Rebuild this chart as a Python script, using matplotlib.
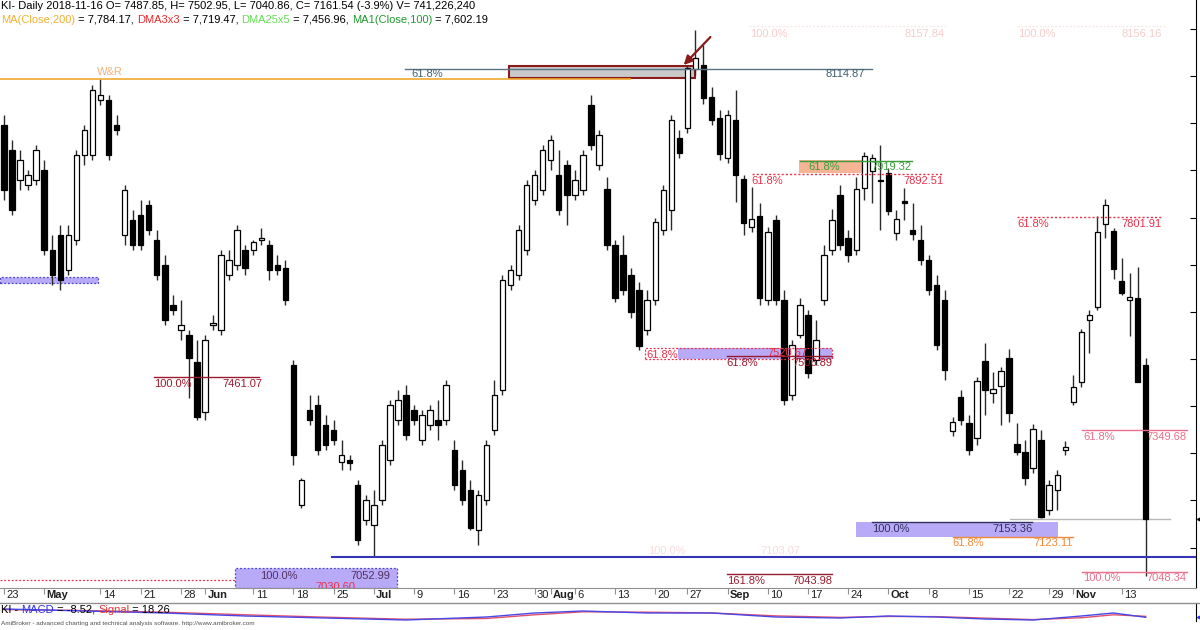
import numpy as np
import matplotlib
matplotlib.use("Agg")
import matplotlib.pyplot as plt
from matplotlib.patches import Rectangle, FancyArrowPatch

plt.rcParams['font.family'] = ['Liberation Sans', 'DejaVu Sans']

# ---------------- data ----------------
opens = [7996, 7943, 7879, 7869, 7879, 7901, 7731, 7763, 7689, 7752, 7932, 7932, 8049, 8049, 7996, 7763, 7795, 7805, 7826, 7752,
         7699, 7614, 7561, 7551, 7494, 7387, 7572, 7561, 7678, 7699, 7731, 7731, 7752, 7742, 7699, 7693, 7487, 7190, 7392, 7402,
         7360, 7349, 7282, 7286, 7233, 7159, 7148, 7201, 7286, 7371, 7424, 7392, 7328, 7360, 7371, 7371, 7307, 7265, 7222, 7137,
         7201, 7349, 7434, 7657, 7678, 7731, 7837, 7858, 7922, 7890, 7911, 7848, 7858, 8038, 7911, 7860, 7742, 7720, 7678, 7646,
         7561, 7625, 7773, 7816, 7968, 7990, 8115, 8123, 8055, 8011, 7927, 8007, 7882, 7780, 7803, 7625, 7795, 7625, 7424, 7551,
         7593, 7498, 7625, 7731, 7848, 7756, 7731, 7863, 7899, 7879, 7894, 7767, 7835, 7773, 7752, 7710, 7657, 7625, 7347, 7419,
         7364, 7332, 7496, 7428, 7443, 7502, 7320, 7303, 7269, 7328, 7180, 7222, 7307, 7409, 7451, 7583, 7610, 7786, 7771, 7665,
         7625, 7629, 7487.85]
highs = [8017, 7964, 7943, 7901, 7954, 7922, 7763, 7784, 7784, 7943, 7996, 8081, 8093, 8060, 8017, 7869, 7816, 7837, 7837, 7773,
         7720, 7636, 7625, 7561, 7540, 7551, 7593, 7731, 7731, 7784, 7742, 7752, 7778, 7752, 7720, 7710, 7498, 7248, 7424, 7424,
         7381, 7371, 7328, 7296, 7243, 7212, 7222, 7328, 7413, 7434, 7445, 7402, 7392, 7402, 7413, 7455, 7328, 7286, 7243, 7222,
         7328, 7455, 7678, 7699, 7784, 7879, 7901, 7954, 7975, 7943, 7922, 7901, 7943, 8060, 7985, 7886, 7752, 7763, 7693, 7663,
         7646, 7799, 7869, 8017, 7985, 8121, 8197, 8166, 8076, 8028, 8028, 8070, 7890, 7865, 7831, 7780, 7805, 7646, 7540, 7629,
         7604, 7583, 7742, 7818, 7869, 7773, 7886, 7939, 7935, 7954, 7905, 7816, 7862, 7831, 7784, 7720, 7678, 7646, 7377, 7434,
         7381, 7462, 7534, 7472, 7483, 7521, 7364, 7328, 7362, 7349, 7243, 7265, 7326, 7466, 7563, 7604, 7803, 7839, 7778, 7714,
         7682, 7695, 7502.95]
lows = [7837, 7805, 7858, 7858, 7869, 7720, 7657, 7646, 7678, 7742, 7911, 7922, 8038, 7922, 7975, 7742, 7731, 7731, 7763, 7667,
        7572, 7593, 7540, 7417, 7371, 7371, 7561, 7551, 7667, 7689, 7678, 7720, 7742, 7667, 7678, 7614, 7275, 7184, 7360, 7296,
        7307, 7318, 7265, 7265, 7106, 7148, 7080, 7190, 7275, 7360, 7328, 7360, 7318, 7349, 7328, 7360, 7222, 7190, 7137, 7106,
        7190, 7339, 7424, 7646, 7667, 7720, 7826, 7848, 7901, 7805, 7784, 7837, 7848, 7943, 7901, 7731, 7621, 7636, 7587, 7519,
        7551, 7614, 7763, 7773, 7926, 7980, 8102, 8040, 7996, 7922, 7916, 7833, 7763, 7769, 7614, 7614, 7614, 7402, 7413, 7545,
        7460, 7487, 7614, 7720, 7731, 7706, 7720, 7837, 7831, 7773, 7805, 7752, 7795, 7752, 7699, 7636, 7519, 7455, 7337, 7360,
        7296, 7318, 7381, 7407, 7360, 7366, 7296, 7233, 7258, 7163, 7169, 7180, 7296, 7402, 7441, 7513, 7604, 7756, 7670, 7636,
        7549, 7453, 7040.86]
closes = [7858, 7816, 7922, 7890, 7943, 7731, 7678, 7667, 7763, 7932, 7985, 8070, 8060, 7932, 7985, 7858, 7742, 7742, 7773, 7678,
          7583, 7604, 7572, 7502, 7377, 7540, 7576, 7720, 7710, 7773, 7693, 7748, 7756, 7689, 7689, 7625, 7296, 7243, 7371, 7307,
          7318, 7328, 7296, 7280, 7116, 7201, 7190, 7318, 7402, 7413, 7339, 7371, 7381, 7392, 7360, 7445, 7233, 7201, 7142, 7212,
          7318, 7424, 7667, 7689, 7773, 7869, 7890, 7943, 7964, 7816, 7848, 7879, 7932, 7954, 7975, 7742, 7629, 7646, 7600, 7527,
          7625, 7791, 7858, 8007, 7937, 8117, 8138, 8053, 8007, 7935, 8017, 7890, 7788, 7797, 7629, 7769, 7625, 7413, 7530, 7614,
          7470, 7540, 7720, 7795, 7742, 7720, 7860, 7930, 7926, 7877, 7814, 7797, 7831, 7765, 7710, 7646, 7530, 7477, 7366, 7371,
          7307, 7453, 7434, 7436, 7475, 7385, 7303, 7248, 7352, 7165, 7233, 7254, 7313, 7441, 7557, 7593, 7769, 7826, 7691, 7640,
          7631, 7452, 7161.54]

tick_pos = [0, 5, 12, 17, 22, 25, 31, 36, 41, 46, 51, 56, 61, 66, 68, 71, 76, 81, 85, 90,
            95, 100, 105, 110, 115, 120, 125, 130, 133, 139]
tick_labels = ['23', 'May', '14', '21', '28', 'Jun', '11', '18', '25', 'Jul', '9', '16', '23', '30', 'Aug', '6',
               '13', '20', '27', 'Sep', '10', '17', '24', 'Oct', '8', '15', '22', '29', 'Nov', '13']
months = {'May', 'Jun', 'Jul', 'Aug', 'Sep', 'Oct', 'Nov'}

macd_idx = [0, 10, 20, 30, 40, 50, 60, 66, 72, 80, 88, 96, 104, 110, 116, 122, 128, 134, 138, 142]
macd_vals = [216, 162, 108, 27, -27, -81, 0, 108, 162, 108, 108, 0, -27, 27, 0, -54, -81, 27, 108, -8.52]
signal_vals = [200, 175, 130, 60, -5, -60, -40, 60, 140, 130, 110, 30, -10, 15, 10, -30, -70, -20, 60, 18.26]

# ---------------- figure ----------------
W, H = 1200, 630
fig = plt.figure(figsize=(W / 100, H / 100), dpi=100)
fig.patch.set_facecolor('white')

PANE_BOTTOM = 588
RIGHT = 1196
SP = 8.04
X0 = 4
ax = fig.add_axes([0, 1 - PANE_BOTTOM / H, RIGHT / W, PANE_BOTTOM / H])
ax.set_xlim(-X0 / SP, (RIGHT - X0) / SP)
ax.set_ylim(7014.4, 8261.2)
ax.set_facecolor('white')
for s in ['left', 'top']:
    ax.spines[s].set_visible(False)
ax.spines['bottom'].set_color('#909090')
ax.spines['right'].set_color('black')
ax.yaxis.tick_right()
ax.set_yticks(np.arange(7100, 8201, 100))
ax.tick_params(axis='y', direction='in', length=4, labelright=False, color='black')
ax.set_xticks(tick_pos)
ax.tick_params(axis='x', direction='out', length=4, color='#909090', labelbottom=False)

# candles
o = np.array(opens, float); h = np.array(highs, float)
l = np.array(lows, float); c = np.array(closes, float)
idx = np.arange(len(c))
ax.vlines(idx, l, h, color='#2a2a2a', lw=1.0, zorder=3)
up = c >= o
lo = np.minimum(o, c)
ht = np.maximum(np.abs(c - o), 1.8)
ax.bar(idx[up], ht[up], bottom=lo[up], width=0.68, color='white', edgecolor='black', lw=0.9, zorder=4)
ax.bar(idx[~up], ht[~up], bottom=lo[~up], width=0.68, color='black', edgecolor='black', lw=0.9, zorder=4)

FS = 8


def label(txt, x, y, color, ha='left', dy=-7, alpha=1.0, clip=False, fs=FS):
    ax.annotate(txt, xy=(x, y), xytext=(0, dy), textcoords='offset pixels', ha=ha, va='center',
                color=color, fontsize=fs, zorder=7, alpha=alpha, annotation_clip=False,
                clip_on=clip)


def level(price, i0, i1, color, ls='-', lw=1.0, left=None, right=None, lx=None, rx=None, dy=-7, tcolor=None):
    ax.plot([i0, i1], [price, price], color=color, ls=ls, lw=lw, zorder=5)
    tc = tcolor or color
    if left:
        label(left, i0 if lx is None else lx, price, tc, 'left', dy)
    if right:
        label(right, i1 if rx is None else rx, price, tc, 'right', dy)


DOT = (0, (1.5, 1.5))
DRED = '#9b1b2e'
RED = '#e8304a'
PINK = '#e8708a'
PURP = '#b9aaf7'

# W&R line
level(8093.7, -0.5, 77.9, '#f0a830', lw=1.2)
label('W&R', 11.6, 8093.7, '#f3b27a', dy=7)

# 8114.87 level + grey box + arrow
level(8114.87, 49.9, 108.0, '#5a7282', lw=1.0, left='61.8%', right='8114.87', lx=50.7, rx=107.1,
      dy=-5, tcolor='#3f5f6f')
ax.add_patch(Rectangle((62.8, 8095.8), 85.9 - 62.8, 8121.2 - 8095.8, facecolor='#c9c9c9',
                       edgecolor='#8b1a1a', lw=1.5, zorder=2))
ax.add_patch(FancyArrowPatch((88.1, 8187.0), (84.3, 8119.1), arrowstyle='-|>', mutation_scale=13,
                             color='#8b1a1a', lw=1.6, zorder=6))

# faint 100% labels near the top
FAINT = '#f6cccc'
ax.plot([92.6, 117.0], [8206, 8206], color='#fae3e3', ls=DOT, lw=0.9, zorder=1)
ax.plot([126.0, 144.6], [8206, 8206], color='#fae3e3', ls=DOT, lw=0.9, zorder=1)
label('100.0%', 92.8, 8206, FAINT, dy=-8)
label('8157.84', 117.0, 8206, FAINT, 'right', dy=-8)
label('100.0%', 126.1, 8206, FAINT, dy=-8)
label('8156.16', 144.0, 8206, FAINT, 'right', dy=-8)

# salmon box / green level
ax.add_patch(Rectangle((98.9, 7894.4), 107.1 - 98.9, 7922.0 - 7894.4, facecolor='#f5b496',
                       edgecolor='none', zorder=2))
level(7919.32, 99.0, 112.9, '#3a9e3a', lw=1.0, left='61.8%', right='7919.32', lx=100.0, dy=-6)
level(7892.51, 93.0, 116.8, RED, ls=DOT, lw=1.0, left='61.8%', right='7892.51')
level(7801.91, 126.0, 144.0, RED, ls=DOT, lw=1.0, left='61.8%', right='7801.91')
level(7349.68, 134.1, 147.1, PINK, lw=1.0, left='61.8%', right='7349.68', lx=134.2)

# left purple dotted box
ax.add_patch(Rectangle((-0.5, 7661.1), 12.2, 12.7, facecolor=PURP, edgecolor='#4848c8',
                       ls=DOT, lw=0.9, zorder=2))

# 100% 7461.07
level(7461.07, 18.7, 31.7, DRED, lw=1.0, left='100.0%', right='7461.07', rx=32.1)

# 7520.67 / 7506.89 zone
ax.add_patch(Rectangle((83.8, 7499.9), 103.0 - 83.8, 7523.3 - 7499.9, facecolor=PURP,
                       edgecolor='none', zorder=2))
ax.add_patch(Rectangle((79.7, 7499.9), 103.0 - 79.7, 7523.3 - 7499.9, facecolor='none',
                       edgecolor=RED, ls=DOT, lw=0.9, zorder=5))
label('61.8%', 79.9, 7508.0, RED, dy=0)
label('7520.67', 99.9, 7512.0, RED, 'right', dy=0)
level(7506.89, 89.9, 103.0, DRED, lw=1.0, left='61.8%', right='7506.89')

# 161.8% 7043.98
level(7043.98, 89.9, 103.0, DRED, lw=1.0, left='161.8%', right='7043.98')

# bottom-left box + 7030.60
ax.add_patch(Rectangle((28.7, 7014.4), 48.9 - 28.7, 7056.8 - 7014.4, facecolor=PURP,
                       edgecolor='#4848c8', ls=DOT, lw=0.9, zorder=2))
label('100.0%', 31.8, 7039.8, '#503060', dy=0)
label('7052.99', 48.0, 7039.8, '#503060', 'right', dy=0)
ax.plot([-0.5, 28.7], [7030.6, 7030.6], color=RED, ls=DOT, lw=0.9, zorder=5)
ax.text(38.7, 7017.0, '7030.60', color=RED, fontsize=FS, va='center', ha='left', clip_on=True, zorder=7)

# blue support line
ax.plot([40.8, 148.3], [7080.1, 7080.1], color='#3434b4', lw=1.5, zorder=5)
label('100.0%', 80.1, 7092.9, '#f8dcdc', dy=0)
label('7103.07', 99.0, 7092.9, '#f8dcdc', 'right', dy=0)

# bottom-right zone
ax.add_patch(Rectangle((106.0, 7123.11), 131.1 - 106.0, 7153.36 - 7123.11, facecolor=PURP,
                       edgecolor='none', zorder=2))
level(7153.36, 108.0, 127.9, '#303060', lw=1.0, left='100.0%', right='7153.36', rx=128.0)
level(7123.11, 118.0, 133.0, '#f08a3a', lw=1.0, left='61.8%', right='7123.11', dy=-6)
level(7048.34, 134.1, 147.1, PINK, lw=1.0, left='100.0%', right='7048.34', lx=134.2, dy=-6)
ax.plot([125.1, 145.0], [closes[-1], closes[-1]], color='#b8b8b8', lw=1.0, zorder=2)
ax.plot([148.8], [closes[-1]], marker='<', color='black', ms=5, clip_on=False, zorder=8)

# date axis labels
trans = matplotlib.transforms.blended_transform_factory(ax.transData, fig.transFigure)
for p, t in zip(tick_pos, tick_labels):
    ax.text(p + 0.3, 1 - 595 / H, t, transform=trans, ha='left', va='center', fontsize=FS,
            fontweight='bold' if t in months else 'normal', color='#202020', clip_on=False)
fig.add_artist(plt.Line2D([0, 1], [1 - 603 / H] * 2, transform=fig.transFigure, color='#909090', lw=1.0))

# MACD pane
mx = fig.add_axes([0, 1 - 621 / H, RIGHT / W, 18 / H])
mx.set_xlim(ax.get_xlim())
mx.set_ylim(-108, 378)
for s in ['left', 'top', 'bottom']:
    mx.spines[s].set_visible(False)
mx.spines['right'].set_color('black')
mx.set_xticks([]); mx.set_yticks([])
mx.patch.set_alpha(0)
mx.plot(macd_idx, signal_vals, color='#e0506a', lw=1.0)
mx.plot(macd_idx, macd_vals, color='#4848e8', lw=1.0)
mx.plot([148.8], [macd_vals[-1]], marker='<', color='#3030e0', ms=4, clip_on=False)

# multi-coloured header texts
renderer = fig.canvas.get_renderer()


def color_text(x_px, y_px, parts, fs=FS):
    x = x_px
    for s, col in parts:
        t = fig.text(x / W, 1 - y_px / H, s, color=col, fontsize=fs, ha='left', va='center')
        x += t.get_window_extent(renderer).width


color_text(1, 6, [('KI- Daily 2018-11-16 O= 7487.85, H= 7502.95, L= 7040.86, C= 7161.54 (-3.9%) V= 741,226,240', 'black')])
color_text(1, 20, [('MA(Close,200)', '#f0b030'), (' = 7,784.17, ', 'black'), ('DMA3x3', '#e82a2a'),
                   (' = 7,719.47, ', 'black'), ('DMA25x5', '#66dd55'), (' = 7,456.96, ', 'black'),
                   ('MA1(Close,100)', '#1e9a2e'), (' = 7,602.19', 'black')])
color_text(1, 610, [('KI - ', 'black'), ('MACD', '#3434e0'), (' = -8.52, ', 'black'), ('Signal', '#e03838'),
                    (' = 18.26', 'black')])
fig.text(1 / W, 1 - 624 / H, 'AmiBroker - advanced charting and technical analysis software. http://www.amibroker.com',
         fontsize=4.6, color='#505050', ha='left', va='center')

fig.savefig('out.png', dpi=100, facecolor='white')
